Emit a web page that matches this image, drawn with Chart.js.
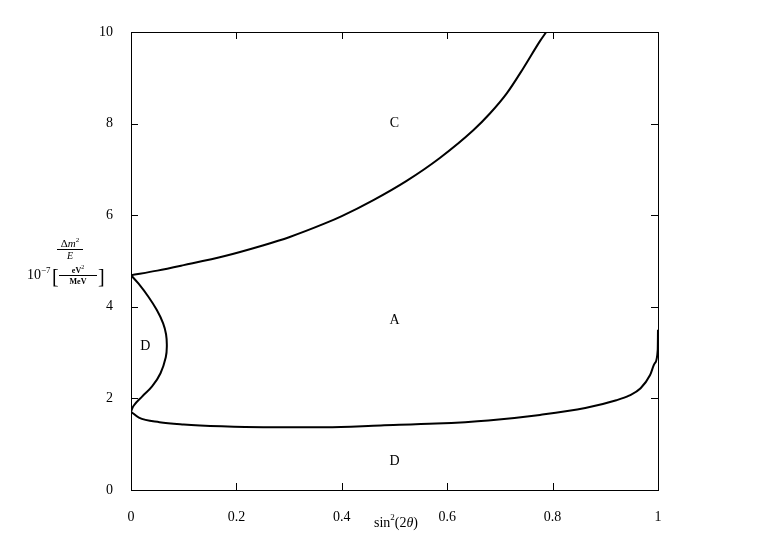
<!DOCTYPE html>
<html>
<head>
<meta charset="utf-8">
<script src="https://cdn.jsdelivr.net/npm/chart.js@4/dist/chart.umd.min.js"></script>
<style>
  body { margin: 0; background: #fff; }
</style>
</head>
<body>
<canvas id="chart-region" width="763" height="545"></canvas>
<script>
// data
var upperX = [0, 0.05, 0.1, 0.178, 0.25, 0.3, 0.368, 0.4, 0.46, 0.523, 0.586, 0.65, 0.681, 0.713, 0.745, 0.776, 0.788];
var upperY = [4.69, 4.79, 4.91, 5.11, 5.34, 5.52, 5.82, 5.98, 6.33, 6.75, 7.25, 7.86, 8.22, 8.66, 9.22, 9.8, 10.0];

var lowerX = [0, 0.015, 0.054, 0.1, 0.172, 0.251, 0.369, 0.474, 0.579, 0.678, 0.776, 0.862, 0.921, 0.945, 0.967, 0.985, 0.994, 0.9995, 1.0];
var lowerY = [1.71, 1.58, 1.48, 1.43, 1.39, 1.37, 1.37, 1.41, 1.45, 1.52, 1.64, 1.79, 1.96, 2.06, 2.22, 2.51, 2.77, 3.06, 3.5];

var loopX = [0, 0.014, 0.033, 0.049, 0.061, 0.0665, 0.068, 0.066, 0.056, 0.04, 0.021, 0.005, 0];
var loopY = [4.69, 4.51, 4.22, 3.93, 3.64, 3.4, 3.15, 2.9, 2.55, 2.26, 2.04, 1.84, 1.71];

var xTicks = [0, 0.2, 0.4, 0.6, 0.8, 1];
var yTicks = [0, 2, 4, 6, 8, 10];

var regionLabels = ['C', 'A', 'D', 'D'];
var regionX = [0.5, 0.5, 0.027, 0.5];
var regionY = [8.0, 3.71, 3.14, 0.63];

var serif = '"Liberation Serif", "DejaVu Serif", serif';

function toPoints(xs, ys) {
  return xs.map(function (x, i) { return { x: x, y: ys[i] }; });
}

function curve(xs, ys, monotone) {
  return {
    data: toPoints(xs, ys),
    showLine: true,
    borderColor: '#000',
    borderWidth: 2,
    pointRadius: 0,
    tension: monotone ? 0 : 0.4,
    cubicInterpolationMode: monotone ? 'monotone' : 'default',
    fill: false
  };
}

// draws a row of text pieces with different fonts / offsets
function drawRuns(ctx, runs, x, y, align) {
  var total = 0;
  runs.forEach(function (r) { ctx.font = r.font; r.w = ctx.measureText(r.text).width; total += r.w; });
  var cx = align === 'center' ? x - total / 2 : x;
  ctx.textAlign = 'left';
  ctx.textBaseline = 'alphabetic';
  runs.forEach(function (r) {
    ctx.font = r.font;
    ctx.fillText(r.text, cx, y + (r.dy || 0));
    cx += r.w;
  });
}

var framePlugin = {
  id: 'frame',
  afterDraw: function (chart) {
    var ctx = chart.ctx;
    var a = chart.chartArea;
    var sx = chart.scales.x, sy = chart.scales.y;
    ctx.save();
    ctx.strokeStyle = '#000';
    ctx.lineWidth = 1;
    ctx.strokeRect(a.left + 0.5, a.top + 0.5, a.right - a.left, a.bottom - a.top);

    // inward ticks on all four sides
    var len = 7;
    ctx.beginPath();
    xTicks.forEach(function (v) {
      var px = Math.round(sx.getPixelForValue(v)) + 0.5;
      ctx.moveTo(px, a.bottom); ctx.lineTo(px, a.bottom - len);
      ctx.moveTo(px, a.top); ctx.lineTo(px, a.top + len);
    });
    yTicks.forEach(function (v) {
      var py = Math.round(sy.getPixelForValue(v)) + 0.5;
      ctx.moveTo(a.left, py); ctx.lineTo(a.left + len, py);
      ctx.moveTo(a.right, py); ctx.lineTo(a.right - len, py);
    });
    ctx.stroke();

    ctx.fillStyle = '#000';
    // region names
    ctx.font = '14px ' + serif;
    ctx.textAlign = 'center';
    ctx.textBaseline = 'middle';
    regionLabels.forEach(function (t, i) {
      ctx.fillText(t, sx.getPixelForValue(regionX[i]), sy.getPixelForValue(regionY[i]));
    });

    // x axis title: sin^2(2θ)
    drawRuns(ctx, [
      { text: 'sin', font: '14px ' + serif },
      { text: '2', font: '9px ' + serif, dy: -7 },
      { text: '(2', font: '14px ' + serif },
      { text: 'θ', font: 'italic 14px ' + serif },
      { text: ')', font: '14px ' + serif }
    ], 396, 527, 'center');

    // y axis title: Δm²/E  10^-7 [eV²/MeV]
    drawRuns(ctx, [
      { text: 'Δ', font: '11px ' + serif },
      { text: 'm', font: 'italic 11px ' + serif },
      { text: '2', font: '7px ' + serif, dy: -5 }
    ], 70, 247, 'center');
    ctx.beginPath();
    ctx.moveTo(57, 249.5); ctx.lineTo(83, 249.5);
    ctx.stroke();
    drawRuns(ctx, [{ text: 'E', font: 'italic 10px ' + serif }], 70, 259, 'center');

    drawRuns(ctx, [
      { text: '10', font: '14px ' + serif },
      { text: '−7', font: '9px ' + serif, dy: -6 }
    ], 27, 279, 'left');
    drawRuns(ctx, [{ text: '[', font: '20px ' + serif }], 52, 283, 'left');
    drawRuns(ctx, [
      { text: 'eV', font: 'bold 8px ' + serif },
      { text: '2', font: '6px ' + serif, dy: -4 }
    ], 78, 273, 'center');
    ctx.beginPath();
    ctx.moveTo(59, 275.5); ctx.lineTo(97, 275.5);
    ctx.stroke();
    drawRuns(ctx, [{ text: 'MeV', font: 'bold 8px ' + serif }], 78, 284, 'center');
    drawRuns(ctx, [{ text: ']', font: '20px ' + serif }], 98, 283, 'left');
    ctx.restore();
  }
};

var chartRegion = new Chart(document.getElementById('chart-region').getContext('2d'), {
  type: 'scatter',
  data: {
    datasets: [curve(upperX, upperY, true), curve(lowerX, lowerY, true), curve(loopX, loopY, false)]
  },
  options: {
    responsive: false,
    animation: false,
    layout: { padding: { left: 0, right: 105, top: 32, bottom: 0 } },
    plugins: { legend: { display: false }, tooltip: { enabled: false } },
    scales: {
      x: {
        type: 'linear',
        min: 0,
        max: 1,
        afterFit: function (scale) { scale.height = 55; },
        afterBuildTicks: function (scale) { scale.ticks = xTicks.map(function (v) { return { value: v }; }); },
        grid: { display: false },
        border: { display: false },
        ticks: {
          padding: 11,
          color: '#000',
          font: { family: serif, size: 14 },
          callback: function (v) { return String(Math.round(v * 10) / 10); }
        }
      },
      y: {
        min: 0,
        max: 10,
        afterFit: function (scale) { scale.width = 131; },
        afterBuildTicks: function (scale) { scale.ticks = yTicks.map(function (v) { return { value: v }; }); },
        grid: { display: false },
        border: { display: false },
        ticks: {
          padding: 10,
          color: '#000',
          font: { family: serif, size: 14 }
        }
      }
    }
  },
  plugins: [framePlugin]
});
</script>
</body>
</html>
